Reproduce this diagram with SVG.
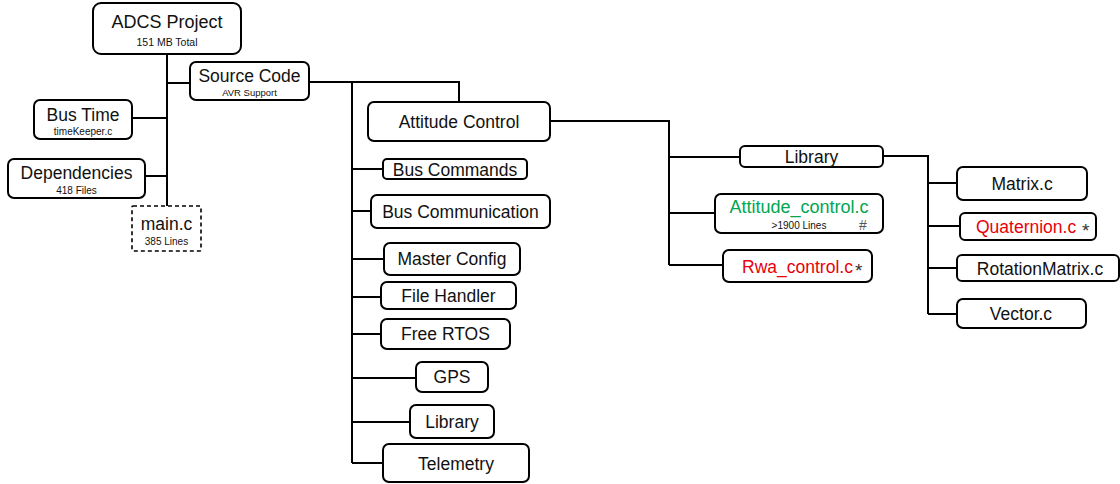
<svg xmlns="http://www.w3.org/2000/svg" width="1120" height="484" viewBox="0 0 1120 484">
<style>
.box{fill:#fff;stroke:#000;stroke-width:2}
.dash{fill:#fff;stroke:#000;stroke-width:1.6;stroke-dasharray:4 3}
.t{font-family:"Liberation Sans",Arial,sans-serif;font-size:17.5px;fill:#111;text-anchor:middle}
.s{font-family:"Liberation Sans",Arial,sans-serif;font-size:10px;fill:#111;text-anchor:middle}
.g{fill:#00A651}
.r{fill:#E8000B}
.m{font-family:"Liberation Sans",Arial,sans-serif;font-size:14px;fill:#555}
.a{font-family:"Liberation Sans",Arial,sans-serif;font-size:19px;fill:#333}
#conn path{fill:none;stroke:#000;stroke-width:2}
</style>
<rect width="1120" height="484" fill="#fff"/>
<g id="conn">
<path d="M167 54V206M167 83H190M132 118H167M145 176H167"/>
<path d="M309 82H459V102M352 82V463"/>
<path d="M352 169H383M352 211H371M352 259H384M352 297H381M352 334H381M352 378H416M352 422H410M352 463H383"/>
<path d="M550 121H669V265M669 157H740M669 213H715M669 265H723"/>
<path d="M883 156H928V314M928 183H957M928 226H960M928 268H957M928 314H957"/>
</g>
<g id="adcs"><rect class="box" x="93" y="3" width="148" height="51" rx="8"/><text class="t" x="167" y="28" style="font-size:18px">ADCS Project</text><text class="s" x="167" y="46" style="font-size:10.5px">151 MB Total</text></g>
<g id="source"><rect class="box" x="190" y="62" width="119" height="38" rx="6"/><text class="t" x="249.5" y="82">Source Code</text><text class="s" x="249.5" y="96" style="font-size:9.5px">AVR Support</text></g>
<g id="bustime"><rect class="box" x="34" y="100" width="98" height="39" rx="6"/><text class="t" x="83" y="121">Bus Time</text><text class="s" x="83" y="135">timeKeeper.c</text></g>
<g id="deps"><rect class="box" x="8" y="159" width="137" height="39" rx="6"/><text class="t" x="76.5" y="179">Dependencies</text><text class="s" x="76.5" y="194">418 Files</text></g>
<g id="main"><rect class="dash" x="132" y="206" width="69" height="45" rx="1"/><text class="t" x="166.5" y="230">main.c</text><text class="s" x="166.5" y="245">385 Lines</text></g>
<g id="attctl"><rect class="box" x="368" y="102" width="182" height="39" rx="6"/><text class="t" x="459" y="128">Attitude Control</text></g>
<g id="buscmd"><rect class="box" x="383" y="159" width="144" height="20" rx="4"/><text class="t" x="455" y="176">Bus Commands</text></g>
<g id="buscomm"><rect class="box" x="371" y="195" width="179" height="33" rx="6"/><text class="t" x="460.5" y="218">Bus Communication</text></g>
<g id="master"><rect class="box" x="384" y="243" width="136" height="32" rx="6"/><text class="t" x="452" y="265">Master Config</text></g>
<g id="filehandler"><rect class="box" x="381" y="282" width="135" height="27" rx="6"/><text class="t" x="448.5" y="302">File Handler</text></g>
<g id="freertos"><rect class="box" x="381" y="319" width="129" height="30" rx="6"/><text class="t" x="445.5" y="340">Free RTOS</text></g>
<g id="gps"><rect class="box" x="416" y="362" width="72" height="30" rx="6"/><text class="t" x="452" y="383">GPS</text></g>
<g id="library1"><rect class="box" x="410" y="405" width="84" height="33" rx="6"/><text class="t" x="452" y="428">Library</text></g>
<g id="telemetry"><rect class="box" x="383" y="444" width="146" height="38" rx="6"/><text class="t" x="456" y="470">Telemetry</text></g>
<g id="library2"><rect class="box" x="740" y="146" width="143" height="21" rx="5"/><text class="t" x="811.5" y="163">Library</text></g>
<g id="attc"><rect class="box" x="715" y="194" width="168" height="39" rx="6"/><text class="t g" x="799" y="213" style="font-size:18px">Attitude_control.c</text><text class="s" x="799" y="229">&gt;1900 Lines</text><text class="m" x="859" y="230">#</text></g>
<g id="rwa"><rect class="box" x="723" y="250" width="149" height="32" rx="6"/><text class="t r" x="742" y="273" style="text-anchor:start">Rwa_control.c</text><text class="a" x="855" y="277">*</text></g>
<g id="matrix"><rect class="box" x="957" y="167" width="130" height="33" rx="6"/><text class="t" x="1022" y="190">Matrix.c</text></g>
<g id="quat"><rect class="box" x="960" y="213" width="136" height="27" rx="5"/><text class="t r" x="976" y="233" style="text-anchor:start">Quaternion.c</text><text class="a" x="1082" y="237">*</text></g>
<g id="rotm"><rect class="box" x="957" y="255" width="162" height="26" rx="5"/><text class="t" x="1040" y="275">RotationMatrix.c</text></g>
<g id="vector"><rect class="box" x="957" y="299" width="129" height="29" rx="6"/><text class="t" x="1021" y="320">Vector.c</text></g>
</svg>
